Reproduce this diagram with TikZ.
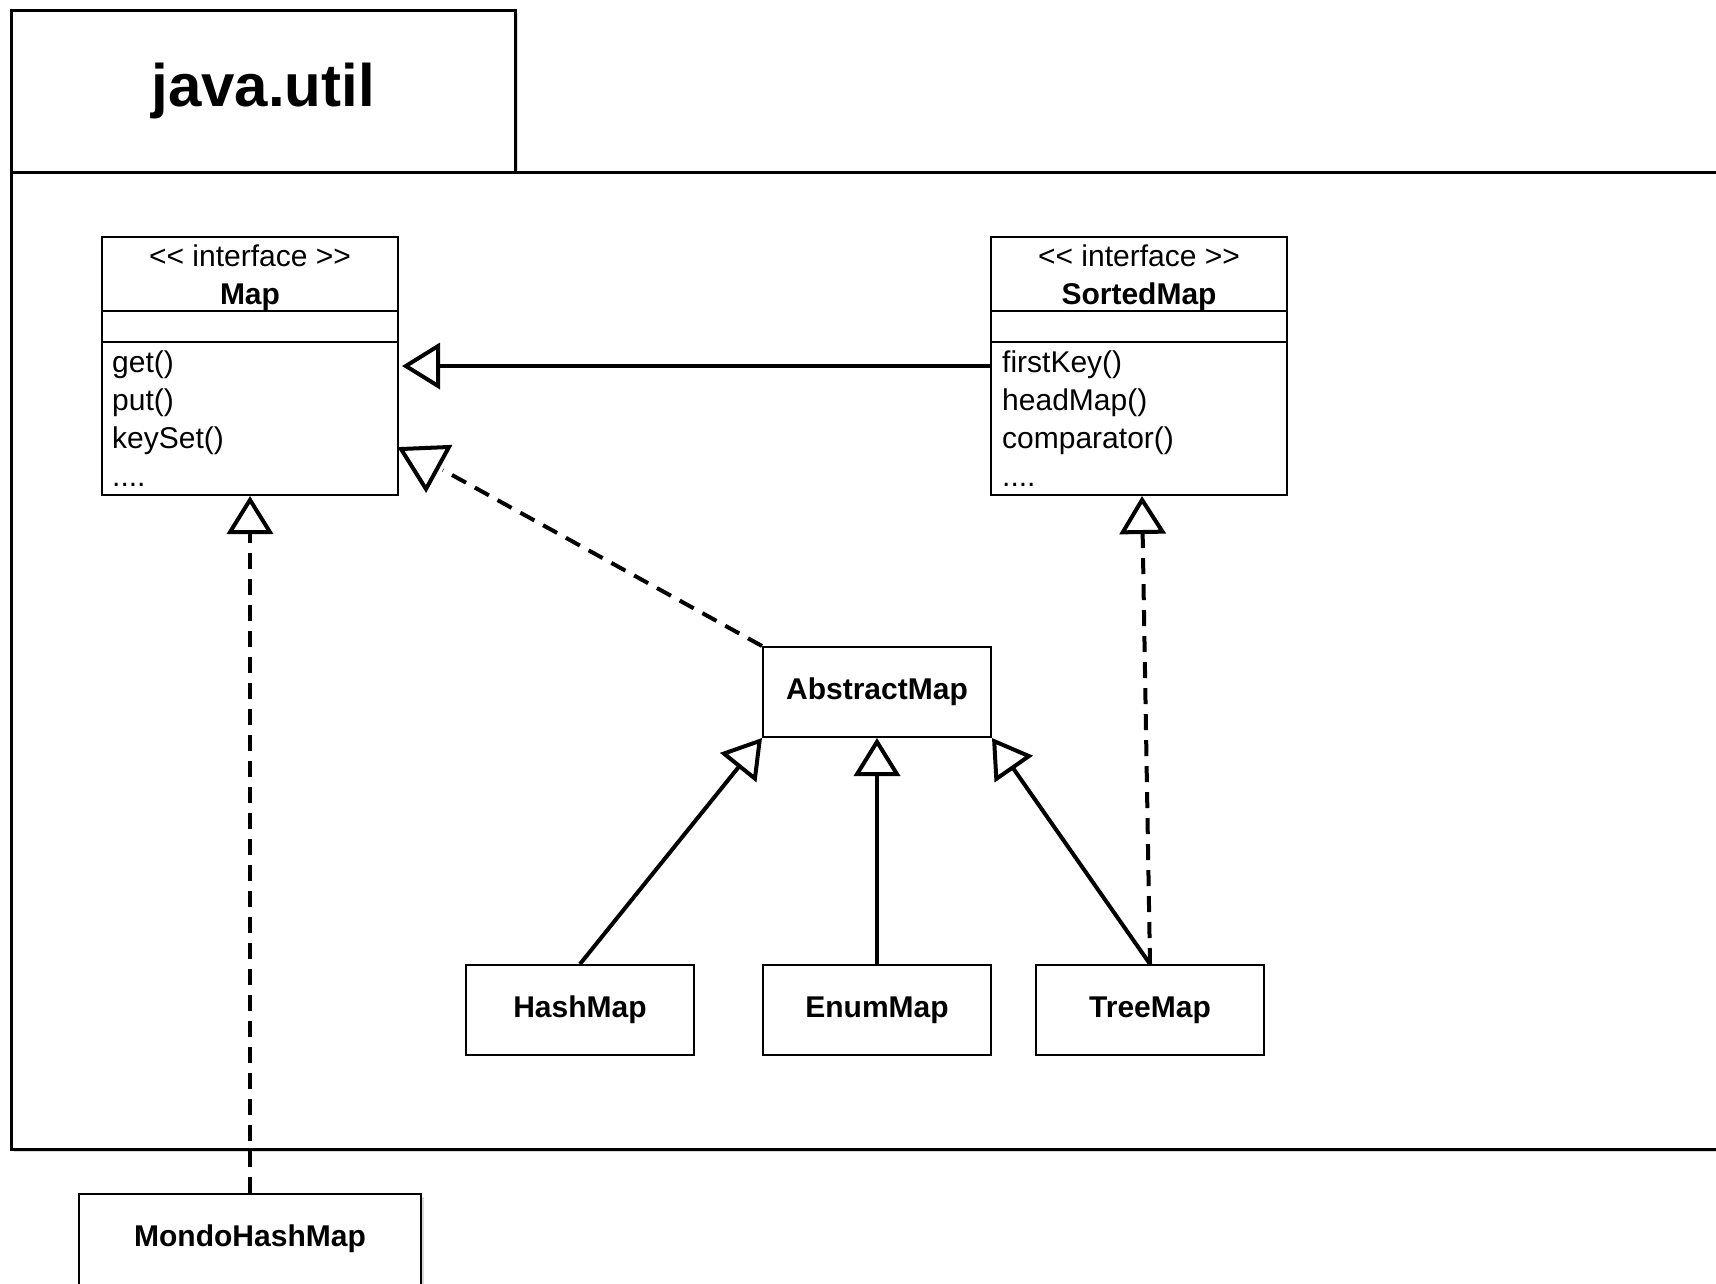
\documentclass[tikz,border=0pt]{standalone}
\usepackage{fontspec}
\setmainfont{Liberation Sans}
\usetikzlibrary{positioning}
\usetikzlibrary{arrows.meta}
\usetikzlibrary{shadows}

\newcommand{\stereo}[1]{<\kern0pt< #1 >\kern0pt>}
\newcommand{\moreops}{....}

\begin{document}
\begin{tikzpicture}
    [
      x = 1pt, y = -1pt,
      font = \fontsize{30}{38}\selectfont,
      pkg/.style = {draw, line width = 2.5pt, fill = white, inner sep = 0pt,
          drop shadow = {shadow xshift = 3pt, shadow yshift = -3pt, opacity = 0.3}},
      cls/.style = {draw, line width = 2pt, fill = white, minimum width = 228pt,
          minimum height = 90pt, font = \fontsize{30}{38}\selectfont\bfseries},
      iface/.style = {draw, line width = 2pt, fill = white, minimum width = 296pt, minimum height = 258pt},
      gen/.style = {line width = 4pt, line join = miter,
          -{Triangle[open, length = 38pt, width = 46pt]}},
      real/.style = {gen, dash pattern = on 16pt off 10pt},
    ]

    \clip (0,0) rectangle (1716,1283);

    % package frame
    \node[pkg, anchor = north west, minimum width = 504pt, minimum height = 162pt,
      font = \fontsize{60}{64}\selectfont\bfseries] (tab) at (10,9) {java.util};
    \node[pkg, anchor = north west, minimum width = 1720pt, minimum height = 977pt] (body) at (10,171) {};

    % interfaces
    \node[iface] (map) at (250,366) {};
    \node[anchor = base] (map-st) at ([yshift = -30pt]map.north) {\stereo{interface}};
    \node[anchor = base, font = \fontsize{30}{38}\selectfont\bfseries] (map-name) at ([yshift = -68pt]map.north) {Map};
    \draw[line width = 2pt] ([yshift = -75pt]map.north west) -- ([yshift = -75pt]map.north east);
    \draw[line width = 2pt] ([yshift = -106pt]map.north west) -- ([yshift = -106pt]map.north east);
    \foreach \m [count = \i] in {get(), put(), keySet(), \moreops}
      \node[anchor = base west, inner sep = 0pt] (map-op\i) at ([xshift = 11pt, yshift = {-98pt-38pt*\i}]map.north west) {\m};

    \node[iface] (sortedmap) at (1139,366) {};
    \node[anchor = base] (sortedmap-st) at ([yshift = -30pt]sortedmap.north) {\stereo{interface}};
    \node[anchor = base, font = \fontsize{30}{38}\selectfont\bfseries] (sortedmap-name) at ([yshift = -68pt]sortedmap.north) {SortedMap};
    \draw[line width = 2pt] ([yshift = -75pt]sortedmap.north west) -- ([yshift = -75pt]sortedmap.north east);
    \draw[line width = 2pt] ([yshift = -106pt]sortedmap.north west) -- ([yshift = -106pt]sortedmap.north east);
    \foreach \m [count = \i] in {firstKey(), headMap(), comparator(), \moreops}
      \node[anchor = base west, inner sep = 0pt] (sortedmap-op\i) at ([xshift = 12pt, yshift = {-98pt-38pt*\i}]sortedmap.north west) {\m};

    % classes
    \node[cls] (am) at (877,692) {AbstractMap};
    \node[cls] (hashmap) at (580,1010) {HashMap};
    \node[cls] (enummap) at (877,1010) {EnumMap};
    \node[cls] (treemap) at (1150,1010) {TreeMap};
    \node[cls, minimum width = 342pt, minimum height = 100pt, anchor = north,
      text depth = 16pt,
      drop shadow = {shadow xshift = 3pt, shadow yshift = -3pt, opacity = 0.3}] (mondo) at (250,1193) {MondoHashMap};

    % relations
    \draw[gen, shorten >= 3pt] (sortedmap.west) -- (map.east);
    \draw[gen] (hashmap.north) -- (am.south west);
    \draw[gen] (enummap.north) -- (am.south);
    \draw[gen] (treemap.north) -- (am.south east);
    \draw[real] (treemap.north) -- ([xshift = 3pt]sortedmap.south);
    \draw[real] (mondo.north) -- (map.south);

    \coordinate (amtip) at (443,470);
    \draw[real, -] (am.north west) -- (amtip);
    \draw[line width = 4pt, line join = miter] (401,449) -- (449,447) -- (426,489) -- cycle;

  \end{tikzpicture}
\end{document}
